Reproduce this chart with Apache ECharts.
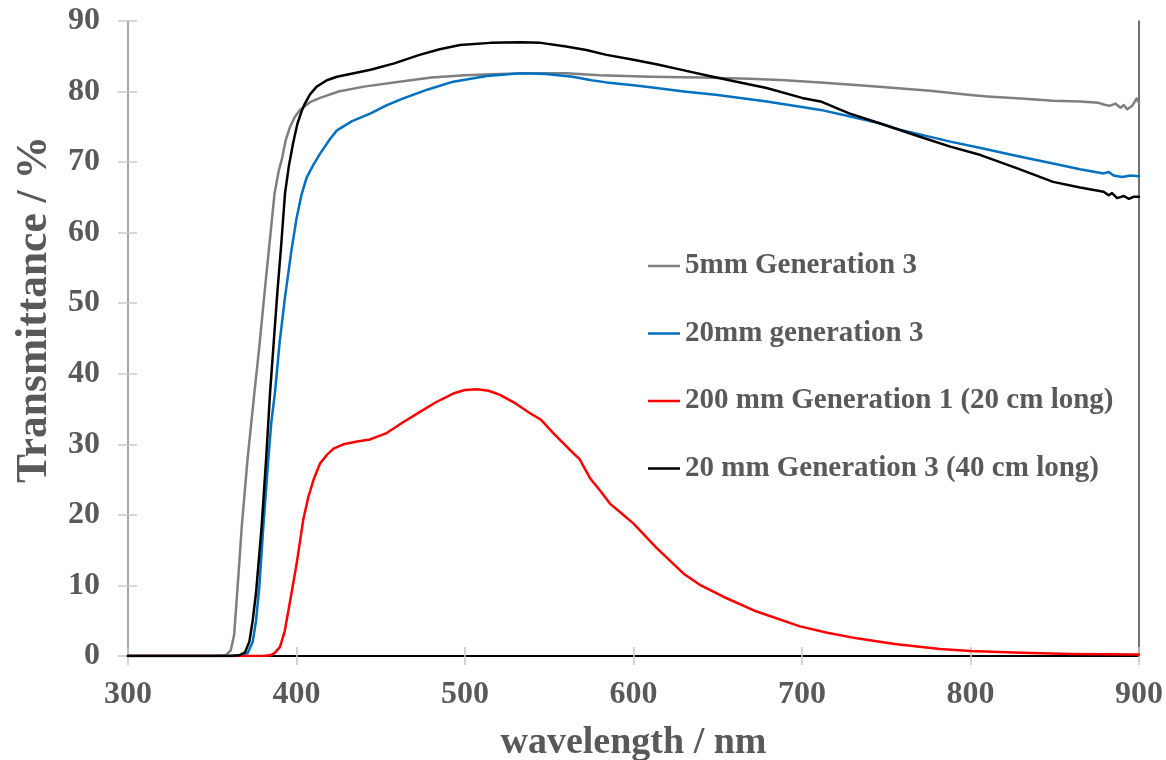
<!DOCTYPE html>
<html>
<head>
<meta charset="utf-8">
<script src="https://cdn.jsdelivr.net/npm/echarts@6/dist/echarts.min.js"></script>
<style>
html,body{margin:0;padding:0;background:#fff;}
#chart{width:1166px;height:760px;}
</style>
</head>
<body>
<div id="chart"></div>
<script>
// ---- data ----
const seriesNames = ["5mm Generation 3", "20mm generation 3", "200 mm Generation 1 (20 cm long)", "20 mm Generation 3 (40 cm long)"];
const xTicks = [300, 400, 500, 600, 700, 800, 900];
const yTicks = [0, 10, 20, 30, 40, 50, 60, 70, 80, 90];

const grayWl = [300,350,358,361,363,364.5,366,367.5,371,375,378,381,384,387,389.5,391.5,393.5,396,399,402,408,414,425,440,461,480,500,520,538,560,580,610,640,669,690,711,740,776,800,810,830,849,865,876,880,883,886,889,891,893,894,896,898.6,900];
const grayT  = [0,0,0.1,0.8,3,8,13,18.3,28,37.3,44,51.4,58.5,65.6,68.8,70.6,73,74.9,76.4,77.4,78.5,79.1,80.0,80.7,81.4,82.0,82.3,82.5,82.6,82.6,82.3,82.1,82.0,81.8,81.6,81.3,80.8,80.1,79.5,79.3,79.0,78.7,78.6,78.4,78.1,78.0,78.3,77.7,78.1,77.5,77.3,78.0,79.0,78.4];

const blueWl = [300,362,368,371,374,376,378,380.3,383,385,387.2,390,393.2,397,400,403,406,410,414,420,424,433,444,453,463,478,493,513,533,548,564,575,584,600,610,630,650,669,679,700,711,728,746,758,788,806,829,849,865,879,882,885,890,895,900];
const blueT  = [0,0,0.1,0.4,2,5,10,18.3,27,33,37.3,44.5,50.9,57.5,62.0,65.4,67.8,69.6,71.2,73.3,74.5,75.8,76.9,78.0,79.0,80.3,81.4,82.2,82.6,82.5,82.1,81.6,81.3,80.9,80.6,80.0,79.5,78.9,78.6,77.8,77.4,76.5,75.5,74.6,72.9,72.0,70.8,69.8,69.0,68.4,68.6,68.1,67.9,68.1,68.0];

const redWl = [300,380,384.3,387,390.2,393,396,400.1,404,407,410,414,418,422,427.8,436,443.6,448,453.5,463,473.3,483,493,500,507,514,520.8,530,538.6,545,552.4,562.3,568,574.2,580,586,593,599.9,613.8,629.6,640,653.3,673.1,698.8,715,732.5,755,781.9,800,830,860,880,900];
const redT  = [0,0,0.1,0.4,1.3,3.5,7.5,13.1,19.3,22.5,24.9,27.3,28.5,29.4,30.0,30.4,30.7,31.1,31.6,33.1,34.6,36.0,37.2,37.7,37.8,37.6,37.0,35.8,34.4,33.5,31.6,29.2,27.9,25.2,23.5,21.6,20.2,18.8,15.3,11.7,10.0,8.4,6.3,4.2,3.3,2.5,1.7,1.0,0.7,0.45,0.3,0.25,0.2];

const blackWl = [300,360,366,369.4,372,374,376,379.3,382,384.3,386.5,388.6,391,393.2,395.5,398,400.5,403,405,408,412,418,424,434,444,458,473,485,497,515,533,545,560,572,584,600,615,630,645,659,679,700,711,728,746,770,788,806,829,849,865,879,882,884,887,891,894,897,900];
const blackT  = [0,0,0.1,0.5,2,5,9,18.3,28,37.3,44.5,51.4,58.5,65.6,69.5,72.7,75.4,77.2,78.3,79.6,80.7,81.6,82.1,82.6,83.1,84.0,85.2,86.0,86.6,86.9,87.0,86.9,86.4,85.9,85.2,84.5,83.8,83.0,82.2,81.5,80.5,79.1,78.6,76.9,75.5,73.6,72.2,71.0,69.0,67.2,66.4,65.8,65.3,65.6,64.9,65.2,64.8,65.1,65.1];

const colors = ["#7f7f7f", "#0070c0", "#ff0000", "#000000"];

function zip(xs, ys){ return xs.map((x,i)=>[x, ys[i]]); }

const font = "Liberation Serif";
const labelColor = "#595959";
const xMin = xTicks[0], xMax = xTicks[xTicks.length-1];
const yMin = yTicks[0], yMax = yTicks[yTicks.length-1];

const chart = echarts.init(document.getElementById('chart'));

const baseX = {type:'value', min:xMin, max:xMax, interval:100, gridIndex:0, splitLine:{show:false}};
const baseY = {type:'value', min:yMin, max:yMax, interval:10, gridIndex:0, splitLine:{show:false}};

const option = {
  backgroundColor:'#ffffff',
  animation:false,
  grid:{left:128, right:27, top:21, bottom:104, containLabel:false, outerBoundsMode:'none'},
  legend:{
    orient:'vertical', left:648, top:251, padding:0,
    icon:'rect', itemWidth:32, itemHeight:2.5, itemGap:37.5,
    data:seriesNames,
    textStyle:{fontFamily:font, fontWeight:'bold', fontSize:29, color:labelColor, lineHeight:30}
  },
  xAxis:[
    Object.assign({}, baseX, {
      position:'bottom',
      name:'wavelength / nm', nameLocation:'middle', nameGap:68,
      nameTextStyle:{fontFamily:font, fontWeight:'bold', fontSize:38, color:labelColor},
      axisLine:{show:true, lineStyle:{color:'#a6a6a6', width:2}},
      axisTick:{show:true, inside:false, length:9, lineStyle:{color:'#c8c8c8', width:1.5}},
      axisLabel:{show:true, margin:23, fontFamily:font, fontWeight:'bold', fontSize:32, color:labelColor}
    }),
    Object.assign({}, baseX, {
      position:'bottom',
      axisLine:{show:false},
      axisTick:{show:true, inside:true, length:9, lineStyle:{color:'#c8c8c8', width:1.5}},
      axisLabel:{show:false}
    }),
    Object.assign({}, baseX, {
      position:'top',
      axisLine:{show:true, lineStyle:{color:'#000000', width:2}},
      axisTick:{show:false},
      axisLabel:{show:false}
    })
  ],
  yAxis:[
    Object.assign({}, baseY, {
      position:'left',
      name:'Transmittance / %', nameLocation:'middle', nameGap:70, nameRotate:90,
      nameTextStyle:{fontFamily:font, fontWeight:'bold', fontSize:43.5, color:labelColor, padding:[0,0,0,58]},
      axisLine:{show:true, lineStyle:{color:'#a6a6a6', width:2}},
      axisTick:{show:true, inside:false, length:10, lineStyle:{color:'#c8c8c8', width:1.5}},
      axisLabel:{show:true, margin:28, fontFamily:font, fontWeight:'bold', fontSize:32, color:labelColor}
    }),
    Object.assign({}, baseY, {
      position:'left',
      axisLine:{show:false},
      axisTick:{show:true, inside:true, length:9, lineStyle:{color:'#c8c8c8', width:1.5}},
      axisLabel:{show:false}
    }),
    Object.assign({}, baseY, {
      position:'right',
      axisLine:{show:true, lineStyle:{color:'#404040', width:1.5}},
      axisTick:{show:false},
      axisLabel:{show:false}
    })
  ],
  series:[
    {name:seriesNames[0], data:zip(grayWl, grayT), color:colors[0]},
    {name:seriesNames[1], data:zip(blueWl, blueT), color:colors[1]},
    {name:seriesNames[2], data:zip(redWl, redT), color:colors[2]},
    {name:seriesNames[3], data:zip(blackWl, blackT), color:colors[3]}
  ].map(s => Object.assign({
    type:'line', xAxisIndex:0, yAxisIndex:0, showSymbol:false, symbol:'none',
    smooth:false, clip:true,
    lineStyle:{width:2.5, color:s.color, join:'round', cap:'round'}, itemStyle:{color:s.color}
  }, s))
};
chart.setOption(option);
</script>
</body>
</html>
